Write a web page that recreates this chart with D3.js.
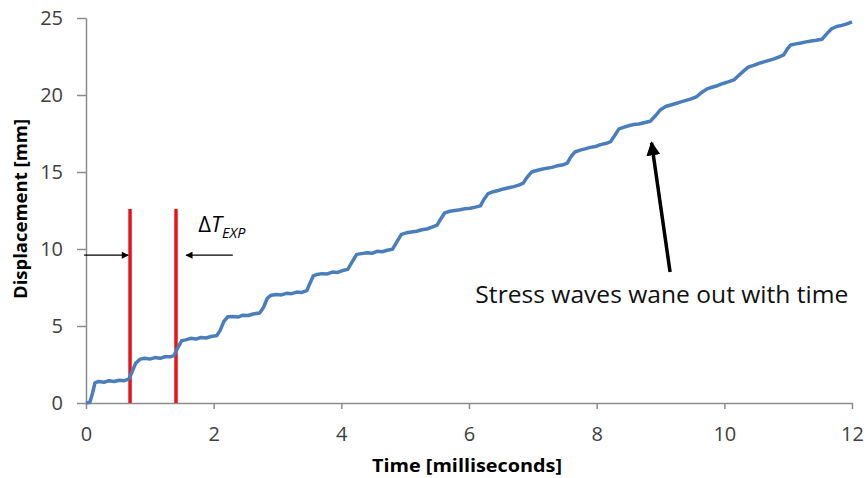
<!DOCTYPE html>
<html>
<head>
<meta charset="utf-8">
<script src="https://cdn.jsdelivr.net/npm/d3@7"></script>
<style>
  body { margin: 0; background: #fff; }
  svg text { font-family: "Open Sans", "DejaVu Sans", sans-serif; }
</style>
</head>
<body>
<div id="chart"></div>
<script>
// time [ms] and displacement [mm]
const time = [0.00, 0.06, 0.10, 0.14, 0.20, 0.28, 0.36, 0.44, 0.52, 0.60, 0.67, 0.72, 0.78, 0.85, 0.92, 1.00, 1.08, 1.16, 1.24, 1.32,
  1.38, 1.44, 1.50, 1.56, 1.64, 1.72, 1.80, 1.88, 1.96, 2.05, 2.10, 2.16, 2.22, 2.30, 2.38, 2.46, 2.54, 2.62, 2.72, 2.78,
  2.84, 2.90, 2.98, 3.06, 3.14, 3.22, 3.30, 3.38, 3.46, 3.50, 3.56, 3.62, 3.70, 3.78, 3.86, 3.94, 4.02, 4.10, 4.16, 4.24,
  4.32, 4.40, 4.48, 4.56, 4.64, 4.72, 4.80, 4.86, 4.94, 5.02, 5.10, 5.18, 5.26, 5.34, 5.42, 5.50, 5.55, 5.62, 5.70, 5.78,
  5.86, 5.94, 6.02, 6.10, 6.18, 6.23, 6.30, 6.38, 6.46, 6.54, 6.62, 6.70, 6.78, 6.85, 6.90, 6.98, 7.06, 7.14, 7.22, 7.30,
  7.38, 7.46, 7.54, 7.59, 7.66, 7.74, 7.82, 7.90, 7.98, 8.06, 8.14, 8.22, 8.28, 8.35, 8.42, 8.50, 8.58, 8.66, 8.74, 8.84,
  8.92, 9.00, 9.08, 9.16, 9.24, 9.32, 9.40, 9.48, 9.57, 9.64, 9.73, 9.82, 9.90, 9.98, 10.06, 10.15, 10.22, 10.30, 10.38, 10.46,
  10.54, 10.62, 10.70, 10.78, 10.86, 10.93, 10.98, 11.04, 11.12, 11.20, 11.28, 11.36, 11.44, 11.53, 11.60, 11.68, 11.76, 11.84, 11.92, 12.00]
const displacement = [0.00, 0.05, 0.60, 1.30, 1.40, 1.35, 1.45, 1.40, 1.48, 1.45, 1.55, 2.00, 2.60, 2.85, 2.90, 2.85, 2.95, 2.90, 3.00, 3.00,
  3.10, 3.60, 4.05, 4.10, 4.20, 4.15, 4.25, 4.22, 4.32, 4.38, 4.70, 5.30, 5.60, 5.62, 5.58, 5.70, 5.68, 5.78, 5.85, 6.20,
  6.80, 7.00, 7.05, 7.02, 7.12, 7.10, 7.20, 7.18, 7.30, 7.70, 8.25, 8.35, 8.40, 8.38, 8.50, 8.48, 8.60, 8.68, 9.10, 9.65,
  9.70, 9.75, 9.72, 9.85, 9.82, 9.92, 9.98, 10.40, 10.95, 11.05, 11.10, 11.15, 11.25, 11.30, 11.42, 11.55, 11.90, 12.35, 12.45, 12.50,
  12.55, 12.62, 12.65, 12.72, 12.80, 13.20, 13.60, 13.72, 13.80, 13.90, 13.98, 14.05, 14.15, 14.28, 14.60, 15.00, 15.10, 15.18, 15.25, 15.30,
  15.40, 15.45, 15.58, 15.95, 16.30, 16.42, 16.50, 16.60, 16.65, 16.78, 16.85, 16.98, 17.35, 17.80, 17.90, 18.00, 18.08, 18.12, 18.20, 18.30,
  18.65, 19.05, 19.25, 19.35, 19.45, 19.55, 19.65, 19.75, 19.90, 20.15, 20.40, 20.52, 20.62, 20.75, 20.85, 20.98, 21.25, 21.55, 21.82, 21.92,
  22.05, 22.15, 22.25, 22.35, 22.48, 22.60, 22.95, 23.25, 23.32, 23.38, 23.45, 23.50, 23.55, 23.62, 23.95, 24.30, 24.45, 24.52, 24.62, 24.75]

const xTicks = [0, 2, 4, 6, 8, 10, 12]
const yTicks = [0, 5, 10, 15, 20, 25]

// the two red markers (ms) and how high they go (mm)
const markerTimes = [0.69, 1.41]
const markerTop = 12.6

const width = 868
const height = 478
const margin = { top: 18, right: 16, bottom: 75, left: 86 }

const x = d3.scaleLinear().domain([0, 12]).range([margin.left, width - margin.right])
const y = d3.scaleLinear().domain([0, 25]).range([height - margin.bottom, margin.top])

const svg = d3.select("#chart").append("svg")
  .attr("width", width)
  .attr("height", height)

const defs = svg.append("defs")
defs.append("marker")
  .attr("id", "head")
  .attr("viewBox", "0 0 10 10")
  .attr("refX", 9).attr("refY", 5)
  .attr("markerWidth", 8).attr("markerHeight", 7)
  .attr("markerUnits", "userSpaceOnUse")
  .attr("orient", "auto")
  .append("path").attr("d", "M0,0 L10,5 L0,10 z").attr("fill", "#000")

defs.append("marker")
  .attr("id", "bighead")
  .attr("viewBox", "0 0 10 10")
  .attr("refX", 9).attr("refY", 5)
  .attr("markerWidth", 14).attr("markerHeight", 14)
  .attr("markerUnits", "userSpaceOnUse")
  .attr("orient", "auto")
  .append("path").attr("d", "M0,0 L10,5 L0,10 z").attr("fill", "#000")

// axes
const xAxis = svg.append("g")
  .attr("transform", `translate(0,${y(0)})`)
  .call(d3.axisBottom(x).tickValues(xTicks).tickSize(6).tickSizeOuter(0).tickPadding(18))
const yAxis = svg.append("g")
  .attr("transform", `translate(${x(0)},0)`)
  .call(d3.axisLeft(y).tickValues(yTicks).tickSize(9).tickSizeOuter(0).tickPadding(14))

for (const g of [xAxis, yAxis]) {
  g.select(".domain").attr("stroke", "#8c8c8c").attr("stroke-width", 1.5)
  g.selectAll(".tick line").attr("stroke", "#8c8c8c").attr("stroke-width", 1.5)
  g.selectAll(".tick text").attr("fill", "#404040").attr("font-size", 20)
    .style("font-family", '"Open Sans", sans-serif')
}

svg.append("text")
  .attr("x", 372).attr("y", 472)
  .attr("textLength", 190).attr("lengthAdjust", "spacingAndGlyphs")
  .attr("font-size", 18.5).attr("font-weight", "bold")
  .text("Time [milliseconds]")

svg.append("text")
  .attr("transform", `translate(27,${y(12.6)}) rotate(-90)`)
  .attr("text-anchor", "middle")
  .attr("font-size", 18.5).attr("font-weight", "bold")
  .text("Displacement [mm]")

// red markers
svg.append("g").selectAll("line")
  .data(markerTimes)
  .join("line")
  .attr("x1", d => x(d)).attr("x2", d => x(d))
  .attr("y1", y(0)).attr("y2", y(markerTop))
  .attr("stroke", "#e8141c").attr("stroke-width", 3.5)

// displacement curve
const line = d3.line().x(d => x(d[0])).y(d => y(d[1]))
svg.append("path")
  .datum(d3.zip(time, displacement))
  .attr("d", line)
  .attr("fill", "none")
  .attr("stroke", "#4a7ebb")
  .attr("stroke-width", 3.5)
  .attr("stroke-linejoin", "round")

// delta T arrows
svg.append("line")
  .attr("x1", x(-0.03)).attr("x2", x(0.66))
  .attr("y1", y(9.6)).attr("y2", y(9.6))
  .attr("stroke", "#000").attr("stroke-width", 1.3)
  .attr("marker-end", "url(#head)")
svg.append("line")
  .attr("x1", x(2.30)).attr("x2", x(1.57))
  .attr("y1", y(9.6)).attr("y2", y(9.6))
  .attr("stroke", "#000").attr("stroke-width", 1.3)
  .attr("marker-end", "url(#head)")

const dt = svg.append("text")
  .attr("x", x(1.76)).attr("y", y(11.1))
  .attr("font-size", 22).attr("fill", "#000")
dt.append("tspan").text("Δ")
dt.append("tspan").attr("font-style", "italic").text("T")
dt.append("tspan").attr("font-style", "italic").attr("font-size", 14.5).attr("dy", 6).text("EXP")

// stress waves note
svg.append("line")
  .attr("x1", x(9.15)).attr("x2", x(8.86))
  .attr("y1", y(8.5)).attr("y2", y(16.9))
  .attr("stroke", "#000").attr("stroke-width", 3.5)
  .attr("marker-end", "url(#bighead)")

svg.append("text")
  .attr("x", x(6.10)).attr("y", y(6.5))
  .attr("textLength", 373).attr("lengthAdjust", "spacingAndGlyphs")
  .attr("font-size", 23).attr("fill", "#111")
  .text("Stress waves wane out with time")
</script>
</body>
</html>
